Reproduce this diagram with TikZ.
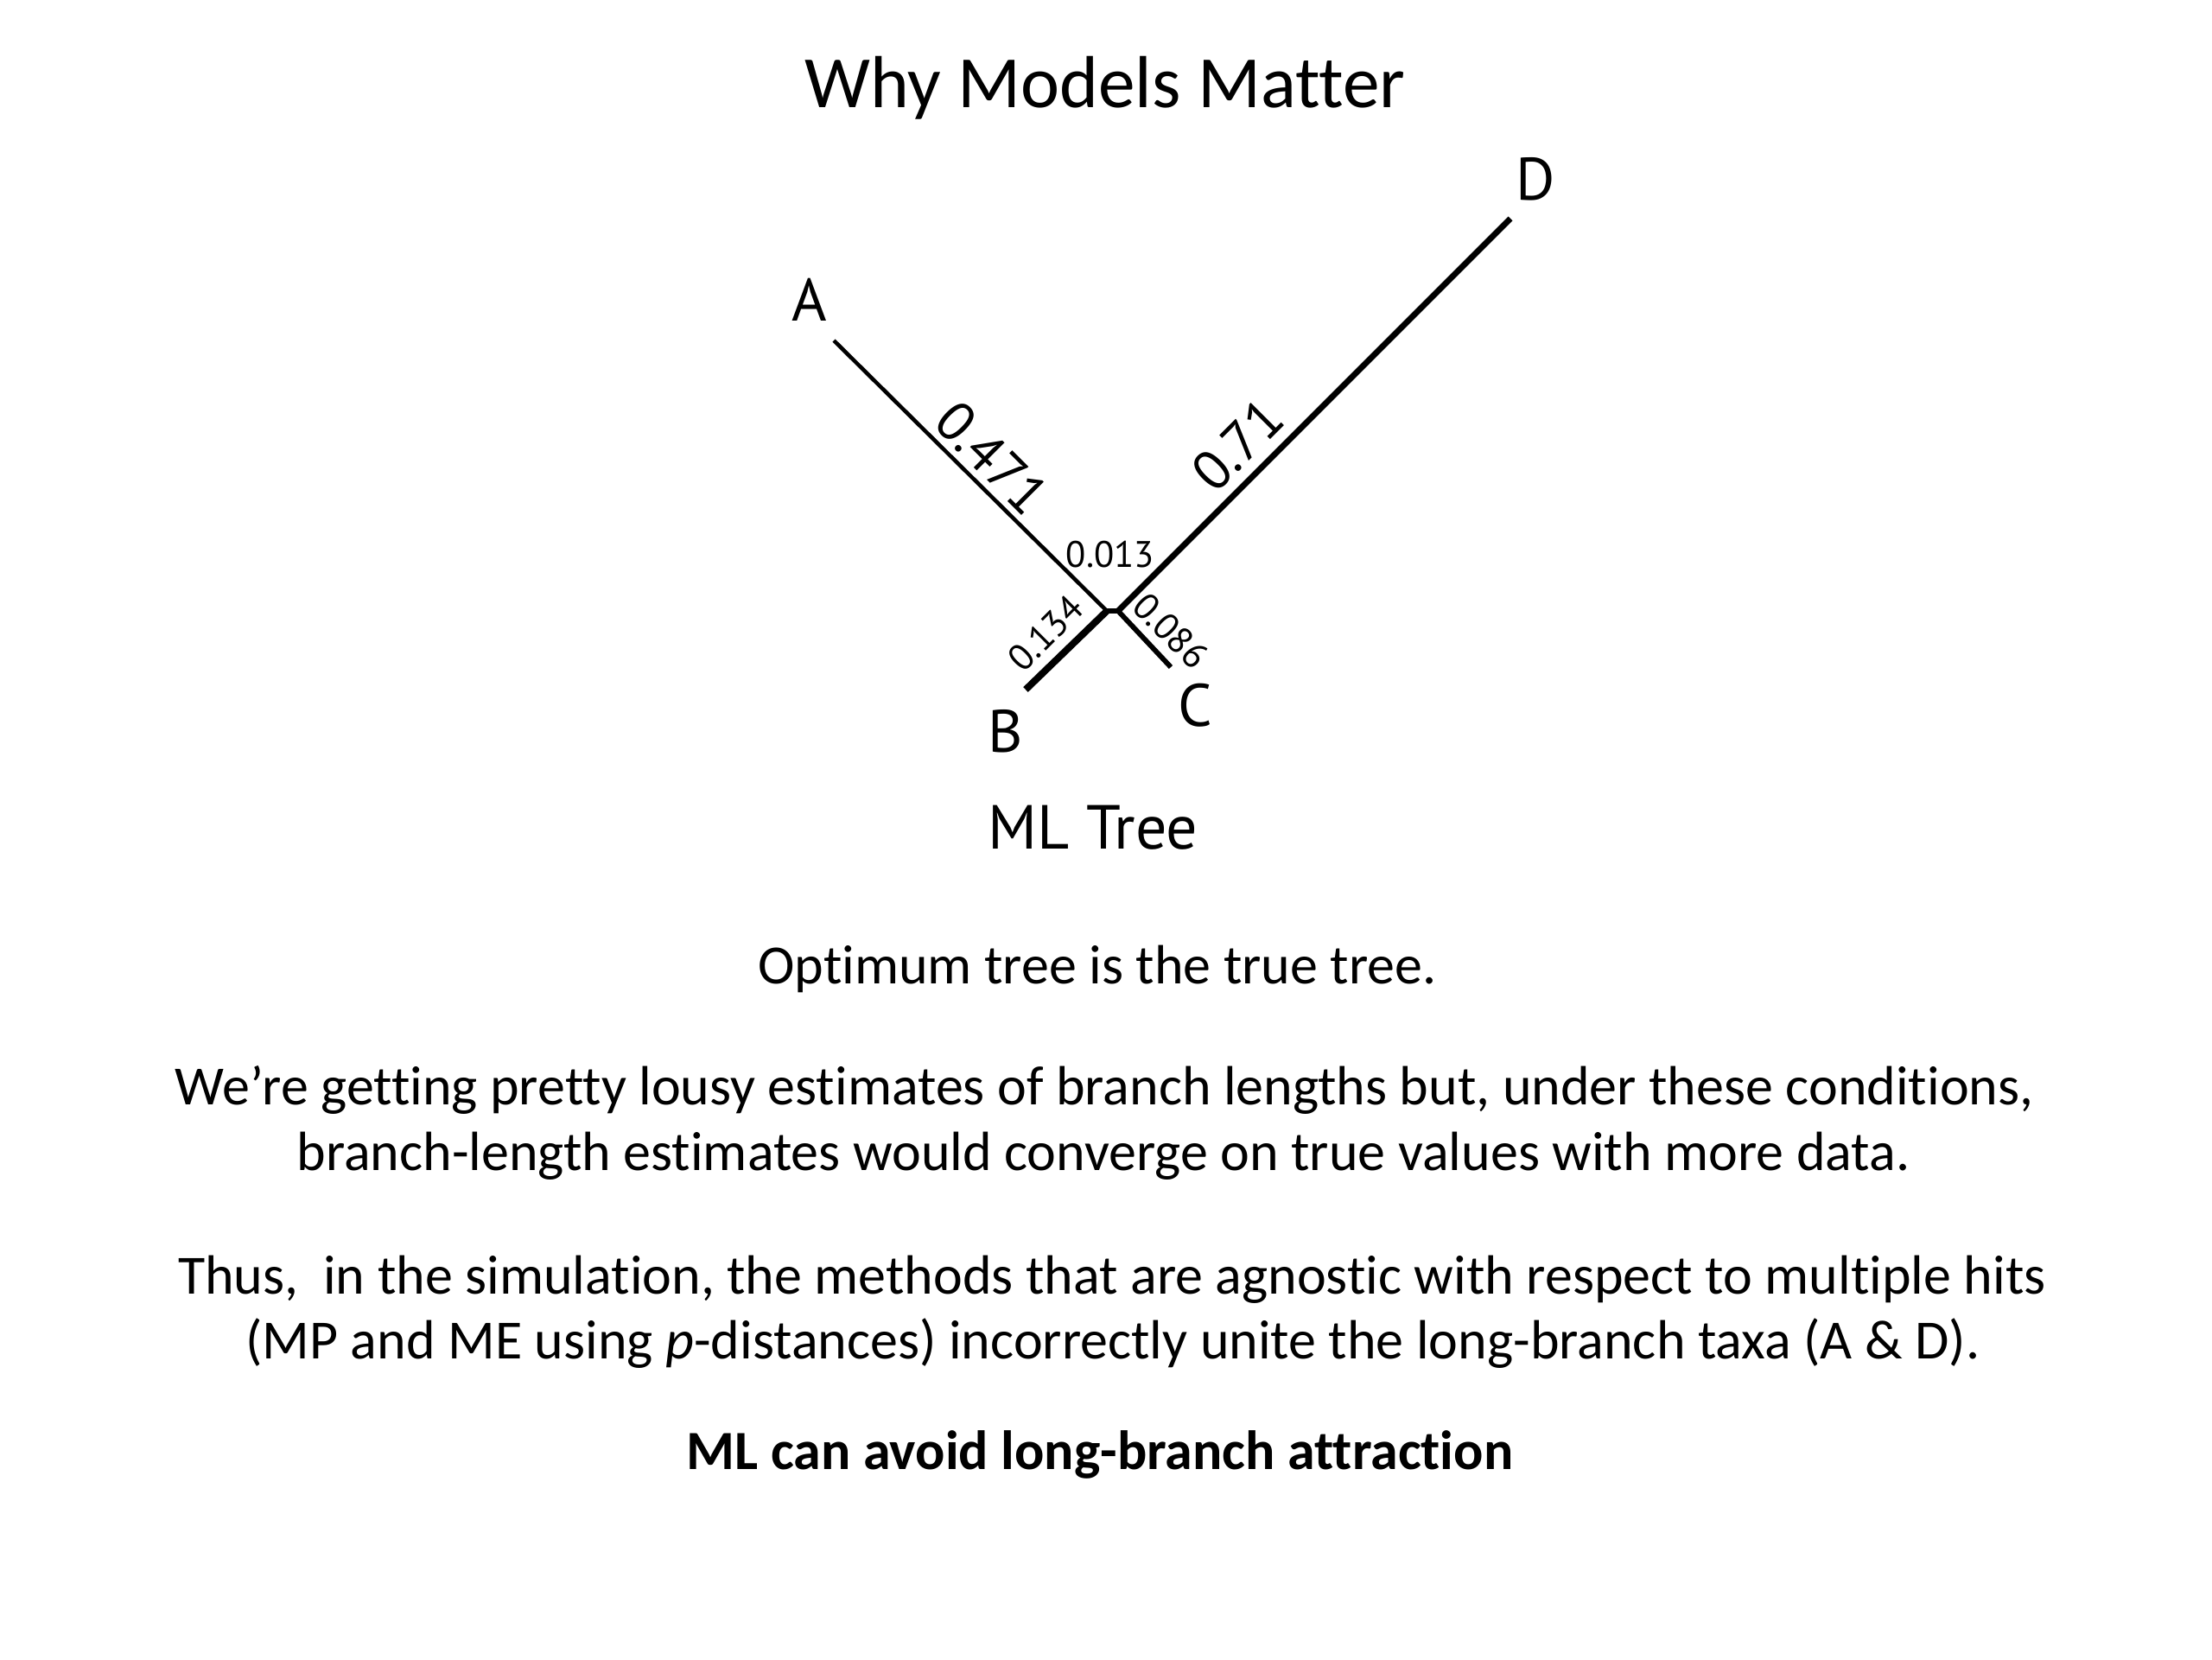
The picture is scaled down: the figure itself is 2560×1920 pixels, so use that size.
\documentclass[tikz,border=0pt]{standalone}
\usepackage{fontspec}
\setmainfont{Carlito}[Ligatures={TeX,NoCommon}]
\newfontfamily\treefont{PT Sans}
\begin{document}
\begin{tikzpicture}[x=0.375pt,y=-0.375pt,
  body/.style={font=\fontsize{24}{29}\selectfont, anchor=base, inner sep=0},
  titletext/.style={font=\fontsize{32}{38}\selectfont, anchor=base, inner sep=0},
  taxon/.style={font=\treefont\fontsize{26}{30}\selectfont, inner sep=0},
  blbig/.style={font=\treefont\fontsize{24}{28}\selectfont, inner sep=0},
  blsmall/.style={font=\treefont\fontsize{16}{19}\selectfont, inner sep=0},
  thin branch/.style={line width=1.7pt},
  thick branch/.style={line width=2.6pt}]
\useasboundingbox[fill=white] (0,0) rectangle (2560,1920);

% title
\node[titletext] (title) at (1279,124) {Why Models Matter};

% tree coordinates
\coordinate (jA) at (1281,707);
\coordinate (jD) at (1294,707);
\coordinate (eA) at (965,394);
\coordinate (eD) at (1748,253);
\coordinate (eB) at (1187,798);
\coordinate (eC) at (1355,772);

\draw[thin branch] (eA) -- (jA);
\draw[thick branch] (jD) -- (eD);
\draw[line width=3pt] (jA) -- (eB);
\draw[line width=2.2pt] (jD) -- (eC);
\draw[line width=2.2pt] ([xshift=-1.5pt]jA) -- ([xshift=1pt]jD);

% taxa
\node[taxon] (A) at (937,347) {A};
\node[taxon] (D) at (1777,207) {D};
\node[taxon] (B) at (1164,846) {B};
\node[taxon] (C) at (1383,816) {C};

% branch lengths
\node[blbig, rotate=-45] (lA) at (1148,530) {0.471};
\node[blbig, rotate=45] (lD) at (1432,515) {0.71};
\node[blsmall] (lI) at (1285,642) {0.013};
\node[blsmall, rotate=45] (lB) at (1210,733) {0.134};
\node[blsmall, rotate=-45] (lC) at (1355,730) {0.086};

\node[taxon, font=\treefont\fontsize{27}{30}\selectfont] (ml) at (1265,958) {ML Tree};

% body text
\node[body] (t1) at (1270,1138) {Optimum tree is the true tree.};
\node[body] (t2) at (1278,1278) {We’re getting pretty lousy estimates of branch lengths but, under these conditions,};
\node[body] (t3) at (1277,1354) {branch-length estimates would converge on true values with more data.};
\node[body] (t4) at (1287,1497) {Thus,~ in the simulation, the methods that are agnostic with respect to multiple hits};
\node[body] (t5) at (1288,1572) {(MP and ME using \textit{p}-distances) incorrectly unite the long-branch taxa (A \& D).};
\node[body, font=\bfseries\fontsize{24}{29}\selectfont] (t6) at (1273,1700) {ML can avoid long-branch attraction};
\end{tikzpicture}
\end{document}
